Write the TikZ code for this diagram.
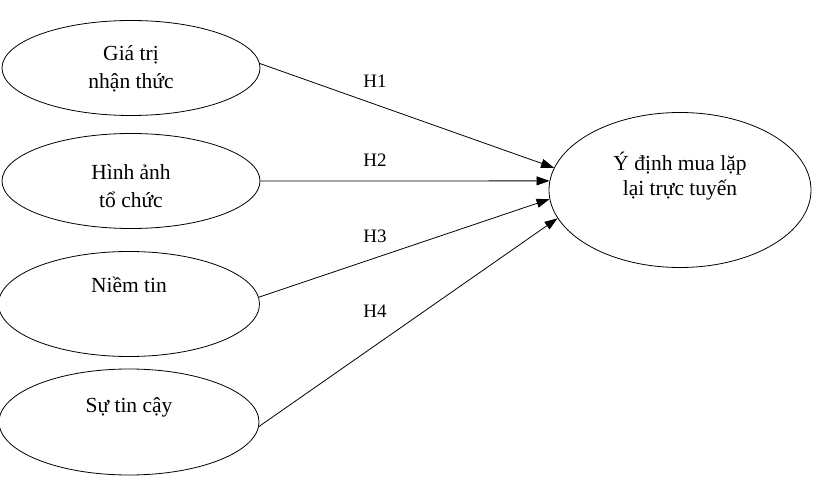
\documentclass[tikz,border=0pt]{standalone}
\usepackage{fontspec}
\setmainfont{Liberation Serif}
\usetikzlibrary{shapes.geometric,arrows.meta}
\begin{document}
\begin{tikzpicture}[x=1pt,y=-1pt,
  oval/.style={draw,ellipse,inner sep=0pt,line width=0.8pt},
  txt/.style={align=center,font=\fontsize{21.5}{28}\selectfont,inner sep=0pt},
  hyp/.style={font=\fontsize{19}{22}\selectfont,inner sep=0pt},
  arr/.style={line width=0.8pt,-{Triangle[length=13pt,width=9pt]}}]
\useasboundingbox (0,0) rectangle (814,481);
\node[oval,minimum width=258pt,minimum height=95pt] (e1) at (131,68) {};
\node[oval,minimum width=258pt,minimum height=95pt] (e2) at (131,181) {};
\node[oval,minimum width=261pt,minimum height=105pt] (e3) at (129,304) {};
\node[oval,minimum width=260pt,minimum height=106pt] (e4) at (129,422) {};
\node[oval,minimum width=262pt,minimum height=155pt] (t) at (680,190) {};
\node[txt] (l1) at (131,69) {Giá trị\\nhận thức};
\node[txt] (l2) at (131,186) {Hình ảnh\\tổ chức};
\node[txt] (l3) at (129,285) {Niềm tin};
\node[txt] (l4) at (129,407) {Sự tin cậy};
\node[txt,font=\fontsize{21.5}{25}\selectfont] (lt) at (680,176) {Ý định mua lặp\\lại trực tuyến};
\draw[arr] (e1.2) -- (t.170);
\draw[arr] (e2.east) -- (t.176);
\draw[arr] (e3.3) -- (t.184);
\draw[arr] (e4.-2) -- (t.193);
\node[hyp] (h1) at (375,81) {H1};
\node[hyp] (h2) at (375,160) {H2};
\node[hyp] (h3) at (375,236) {H3};
\node[hyp] (h4) at (375,311) {H4};
\end{tikzpicture}
\end{document}
